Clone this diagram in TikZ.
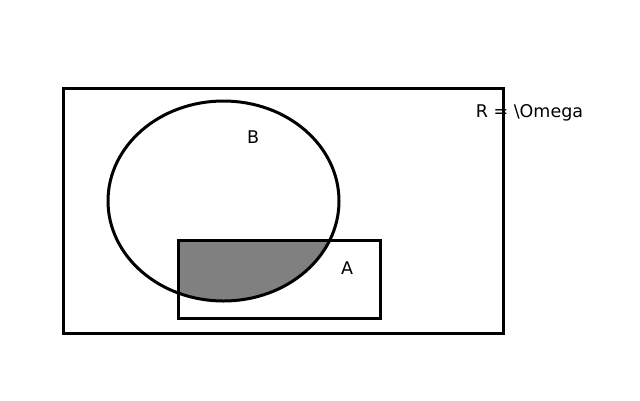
\documentclass[tikz,border=0pt]{standalone}
\usepackage{fontspec}
\setmainfont{DejaVu Sans}
\begin{document}
\begin{tikzpicture}[x=1pt,y=-1pt,
  shape line/.style={draw=black,line width=3pt},
  lbl/.style={font=\fontsize{17.5}{20}\selectfont,inner sep=0pt}]
\useasboundingbox (0,0) rectangle (640,400);
\begin{scope}
  \clip (178,240) rectangle (380,318.5);
  \fill[fill=black!50] (223.5,201) ellipse [x radius=115.5, y radius=100];
\end{scope}
\draw[shape line] (63,88) rectangle (503,333);
\draw[shape line] (223.5,201) ellipse [x radius=115.5, y radius=100];
\draw[shape line] (178,240) rectangle (380,318.5);
\node[lbl] (omega) at (529.5,112.5) {R = \textbackslash Omega};
\node[lbl] (b) at (253,137.5) {B};
\node[lbl] (a) at (347,268.5) {A};
\end{tikzpicture}
\end{document}
